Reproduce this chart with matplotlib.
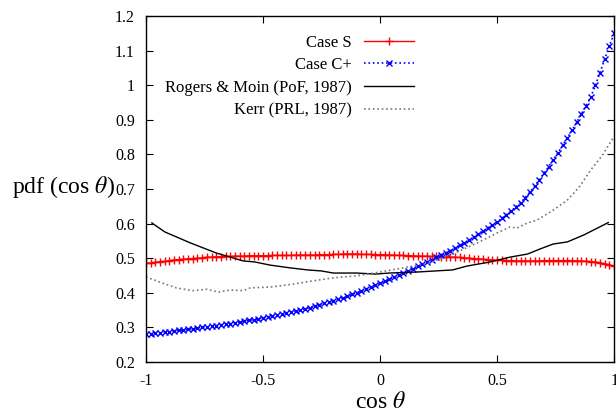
import matplotlib
matplotlib.use("Agg")
from matplotlib import pyplot as plt
from matplotlib.ticker import FuncFormatter
import numpy as np

plt.rcParams['font.family'] = ['Liberation Serif', 'DejaVu Serif']
plt.rcParams['mathtext.fontset'] = 'stix'
plt.rcParams['axes.unicode_minus'] = False

# cos(theta) grid for the two DNS cases, step 0.02
cos_grid = np.linspace(-1.0, 1.0, 101)

case_s = [
    0.485, 0.486, 0.488, 0.490, 0.491, 0.493, 0.495, 0.496, 0.497, 0.498,
    0.499, 0.500, 0.501, 0.503, 0.503, 0.504, 0.504, 0.505, 0.505, 0.506,
    0.506, 0.506, 0.507, 0.507, 0.507, 0.507, 0.507, 0.508, 0.508, 0.508,
    0.508, 0.508, 0.509, 0.509, 0.509, 0.509, 0.509, 0.510, 0.510, 0.510,
    0.511, 0.511, 0.512, 0.512, 0.512, 0.512, 0.511, 0.511, 0.511, 0.510,
    0.510, 0.510, 0.509, 0.509, 0.508, 0.508, 0.507, 0.507, 0.506, 0.506,
    0.506, 0.505, 0.505, 0.504, 0.504, 0.503, 0.503, 0.502, 0.501, 0.500,
    0.499, 0.498, 0.497, 0.496, 0.495, 0.494, 0.494, 0.493, 0.493, 0.492,
    0.492, 0.492, 0.492, 0.492, 0.492, 0.493, 0.493, 0.493, 0.493, 0.493,
    0.493, 0.493, 0.492, 0.492, 0.491, 0.490, 0.489, 0.487, 0.484, 0.481,
    0.477,
]

case_cplus = [
    0.280, 0.281, 0.283, 0.284, 0.286, 0.287, 0.289, 0.291, 0.292, 0.294,
    0.296, 0.298, 0.300, 0.301, 0.303, 0.305, 0.307, 0.309, 0.311, 0.313,
    0.315, 0.317, 0.320, 0.322, 0.325, 0.327, 0.330, 0.333, 0.336, 0.338,
    0.341, 0.344, 0.347, 0.350, 0.354, 0.357, 0.361, 0.365, 0.369, 0.373,
    0.377, 0.381, 0.386, 0.390, 0.395, 0.400, 0.405, 0.411, 0.416, 0.422,
    0.427, 0.433, 0.439, 0.445, 0.452, 0.458, 0.464, 0.470, 0.476, 0.482,
    0.488, 0.495, 0.502, 0.508, 0.515, 0.522, 0.529, 0.537, 0.544, 0.552,
    0.560, 0.569, 0.578, 0.587, 0.596, 0.605, 0.615, 0.626, 0.637, 0.648,
    0.660, 0.675, 0.691, 0.708, 0.726, 0.745, 0.765, 0.785, 0.805, 0.826,
    0.848, 0.870, 0.893, 0.917, 0.941, 0.966, 1.000, 1.037, 1.077, 1.115,
    1.150,
]

rm_x = [-0.975, -0.92, -0.81, -0.70, -0.585, -0.535, -0.47, -0.385, -0.31,
        -0.25, -0.20, -0.10, -0.02, 0.04, 0.16, 0.31, 0.37, 0.47, 0.555,
        0.63, 0.685, 0.74, 0.80, 0.87, 0.975]
rm_y = [0.602, 0.576, 0.544, 0.515, 0.492, 0.489, 0.480, 0.472, 0.466,
        0.463, 0.457, 0.457, 0.454, 0.457, 0.460, 0.466, 0.477, 0.489, 0.503,
        0.512, 0.527, 0.541, 0.547, 0.567, 0.603]

kerr_x = [-1.0, -0.93, -0.87, -0.80, -0.74, -0.69, -0.64, -0.585, -0.555,
          -0.46, -0.37, -0.29, -0.20, -0.10, 0.0, 0.10, 0.21, 0.33, 0.415,
          0.50, 0.555, 0.585, 0.63, 0.67, 0.74, 0.80, 0.85, 0.90, 0.95, 1.0]
kerr_y = [0.446, 0.428, 0.414, 0.406, 0.410, 0.402, 0.408, 0.406, 0.414,
          0.417, 0.425, 0.434, 0.443, 0.449, 0.460, 0.472, 0.486, 0.518, 0.544,
          0.573, 0.590, 0.587, 0.602, 0.610, 0.639, 0.668, 0.705, 0.755, 0.798,
          0.853]

x_ticks = [-1, -0.5, 0, 0.5, 1]
y_ticks = [0.2, 0.3, 0.4, 0.5, 0.6, 0.7, 0.8, 0.9, 1.0, 1.1, 1.2]


fig = plt.figure(figsize=(6.16, 4.15), dpi=100)
ax = fig.add_axes([0.237, 0.128, 0.76, 0.833])

ax.plot(cos_grid, case_s, '-', color='#ff0000', lw=1.0,
        marker='+', ms=6, mew=1.0, label='Case S')
ax.plot(cos_grid, case_cplus, ':', color='#0000ff', lw=1.2,
        marker='x', ms=4.5, mew=1.0, label='Case C+')
ax.plot(rm_x, rm_y, '-', color='black', lw=1.0,
        label='Rogers & Moin (PoF, 1987)')
ax.plot(kerr_x, kerr_y, ':', color='#777777', lw=1.2,
        label='Kerr (PRL, 1987)')

ax.set_xlim(-1, 1)
ax.set_ylim(0.2, 1.2)
ax.set_xticks(x_ticks)
ax.set_yticks(y_ticks)
fmt = FuncFormatter(lambda v, p: '%g' % v)
ax.xaxis.set_major_formatter(fmt)
ax.yaxis.set_major_formatter(fmt)
ax.tick_params(direction='in', top=True, right=True, length=5,
               labelsize=11.5, pad=8)
for s in ax.spines.values():
    s.set_linewidth(1.0)

ax.set_xlabel(r'cos $\theta$', fontsize=17, labelpad=2)
ax.set_ylabel(r'pdf (cos $\theta$)', fontsize=17, rotation=0,
              ha='right', va='center')
ax.yaxis.set_label_coords(-0.066, 0.506)

ax.legend(loc='upper left', bbox_to_anchor=(0.0085, 0.99), frameon=False,
          markerfirst=False, fontsize=12, handlelength=3.0,
          handletextpad=0.72, labelspacing=0.4)

fig.savefig('out.png', dpi=100)
